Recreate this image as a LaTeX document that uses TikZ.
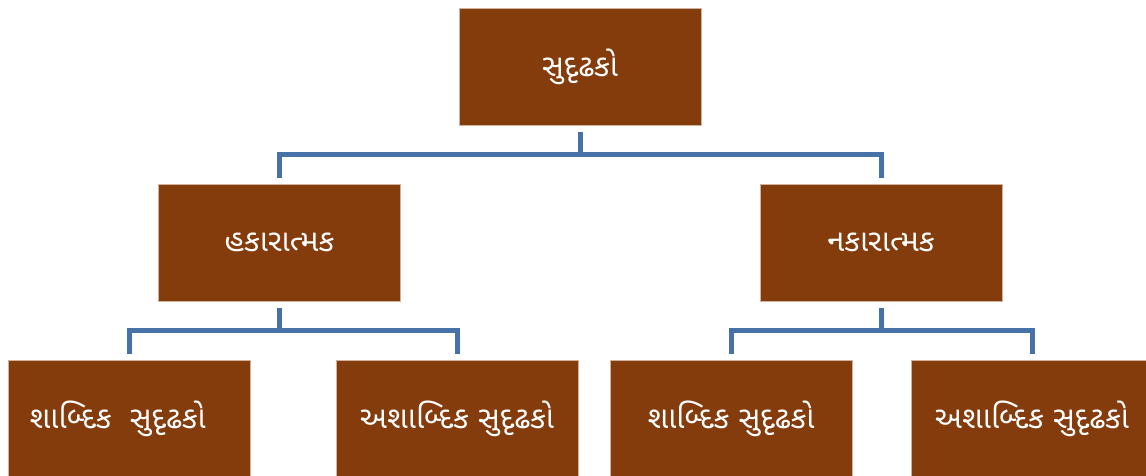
\documentclass[tikz,border=0pt]{standalone}
\usepackage{fontspec}
\newfontfamily\gujfont[Script=Gujarati]{Noto Sans Gujarati UI}
\definecolor{boxbrown}{HTML}{843C0C}
\definecolor{boxedge}{HTML}{D2B29C}
\definecolor{linkblue}{HTML}{4672A8}

\begin{document}
\begin{tikzpicture}[x=0.02cm,y=-0.02cm,
  box/.style={fill=boxbrown,draw=boxedge,line width=0.4pt,text=white,
    minimum width=4.84cm,minimum height=2.34cm,inner sep=0pt,outer sep=0pt,
    font=\gujfont\fontsize{17.5}{20}\selectfont},
  link/.style={draw=linkblue,line width=0.1cm}]

\useasboundingbox (0,0) rectangle (1146,476) ;

\node [box] (top) at (580,66.5) {સુદૃઢકો} ;
\node [box] (pos) at (279.5,242.5) {હકારાત્મક} ;
\node [box] (neg) at (881,242.5) {નકારાત્મક} ;
\node [box] (posverb) at (129,418.5) {\hspace*{-0.45cm}શાબ્દિક\ \ સુદૃઢકો} ;
\node [box] (posnon) at (457,418.5) {અશાબ્દિક સુદૃઢકો} ;
\node [box] (negverb) at (731,418.5) {શાબ્દિક સુદૃઢકો} ;
\node [box] (negnon) at (1032,418.5) {અશાબ્દિક સુદૃઢકો} ;

\coordinate (b1) at (580,155) ;
\coordinate (b2) at (279.5,330) ;
\coordinate (b3) at (881,330) ;

\draw [link,shorten <=0.14cm] (top.south) -- (b1) ;
\draw [link,shorten >=0.12cm] (b1) -| (pos.north) ;
\draw [link,shorten >=0.12cm] (b1) -| (neg.north) ;
\draw [link,shorten <=0.14cm] (pos.south) -- (b2) ;
\draw [link,shorten >=0.12cm] (b2) -| (posverb.north) ;
\draw [link,shorten >=0.12cm] (b2) -| (posnon.north) ;
\draw [link,shorten <=0.14cm] (neg.south) -- (b3) ;
\draw [link,shorten >=0.12cm] (b3) -| (negverb.north) ;
\draw [link,shorten >=0.12cm] (b3) -| (negnon.north) ;
\end{tikzpicture}
\end{document}
